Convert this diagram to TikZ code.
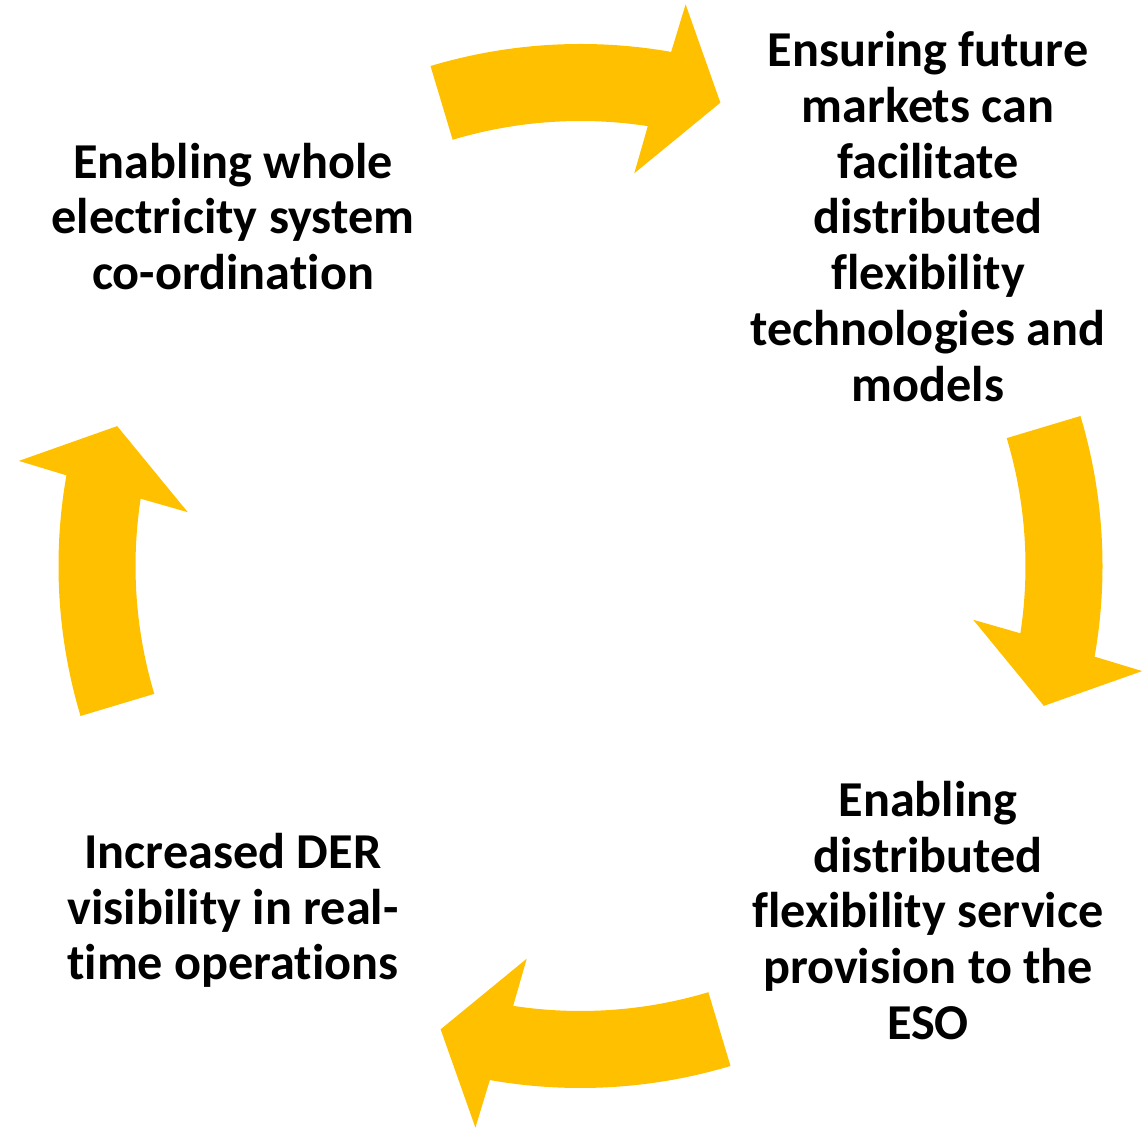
\documentclass[tikz,border=0pt]{standalone}
\usepackage{fontspec}
\setmainfont{Carlito}[Ligatures=NoCommon]
\definecolor{arrowgold}{HTML}{FFC000}
\tikzstyle{txt} = [align=center, text=black, font=\bfseries\fontsize{28.6}{31.7}\selectfont]
\tikzstyle{arrowfill} = [fill=arrowgold, draw=none]

\begin{document}
\begin{tikzpicture}[x=0.02cm, y=0.02cm,
			cyclearrow/.pic={
				\fill[arrowfill] (106.7:522) arc[start angle=106.7, end angle=80, radius=522]
					-- (79.4:571.4) -- (73.2:484) -- (82.2:396.4) -- (81.3:445)
					arc[start angle=81.3, end angle=106.7, radius=445] -- cycle;
			}]
			\useasboundingbox (0,0) rectangle (1145,1128);
			\coordinate (c) at (580.5,562);
			
			\pic at (c) {cyclearrow};
			\pic[rotate=-90] at (c) {cyclearrow};
			\pic[rotate=-180] at (c) {cyclearrow};
			\pic[rotate=-270] at (c) {cyclearrow};
			
			\node (whole)[txt] at (233,911.5) {Enabling whole\\electricity system\\co-ordination};
			\node (markets)[txt] at (928,911.5) {Ensuring future\\markets can\\facilitate\\distributed\\flexibility\\technologies and\\models};
			\node (service)[txt] at (928,217.5) {Enabling\\distributed\\flexibility service\\provision to the\\ESO};
			\node (der)[txt] at (233,217.5) {Increased DER\\visibility in real-\\time operations};
		\end{tikzpicture}
\end{document}
